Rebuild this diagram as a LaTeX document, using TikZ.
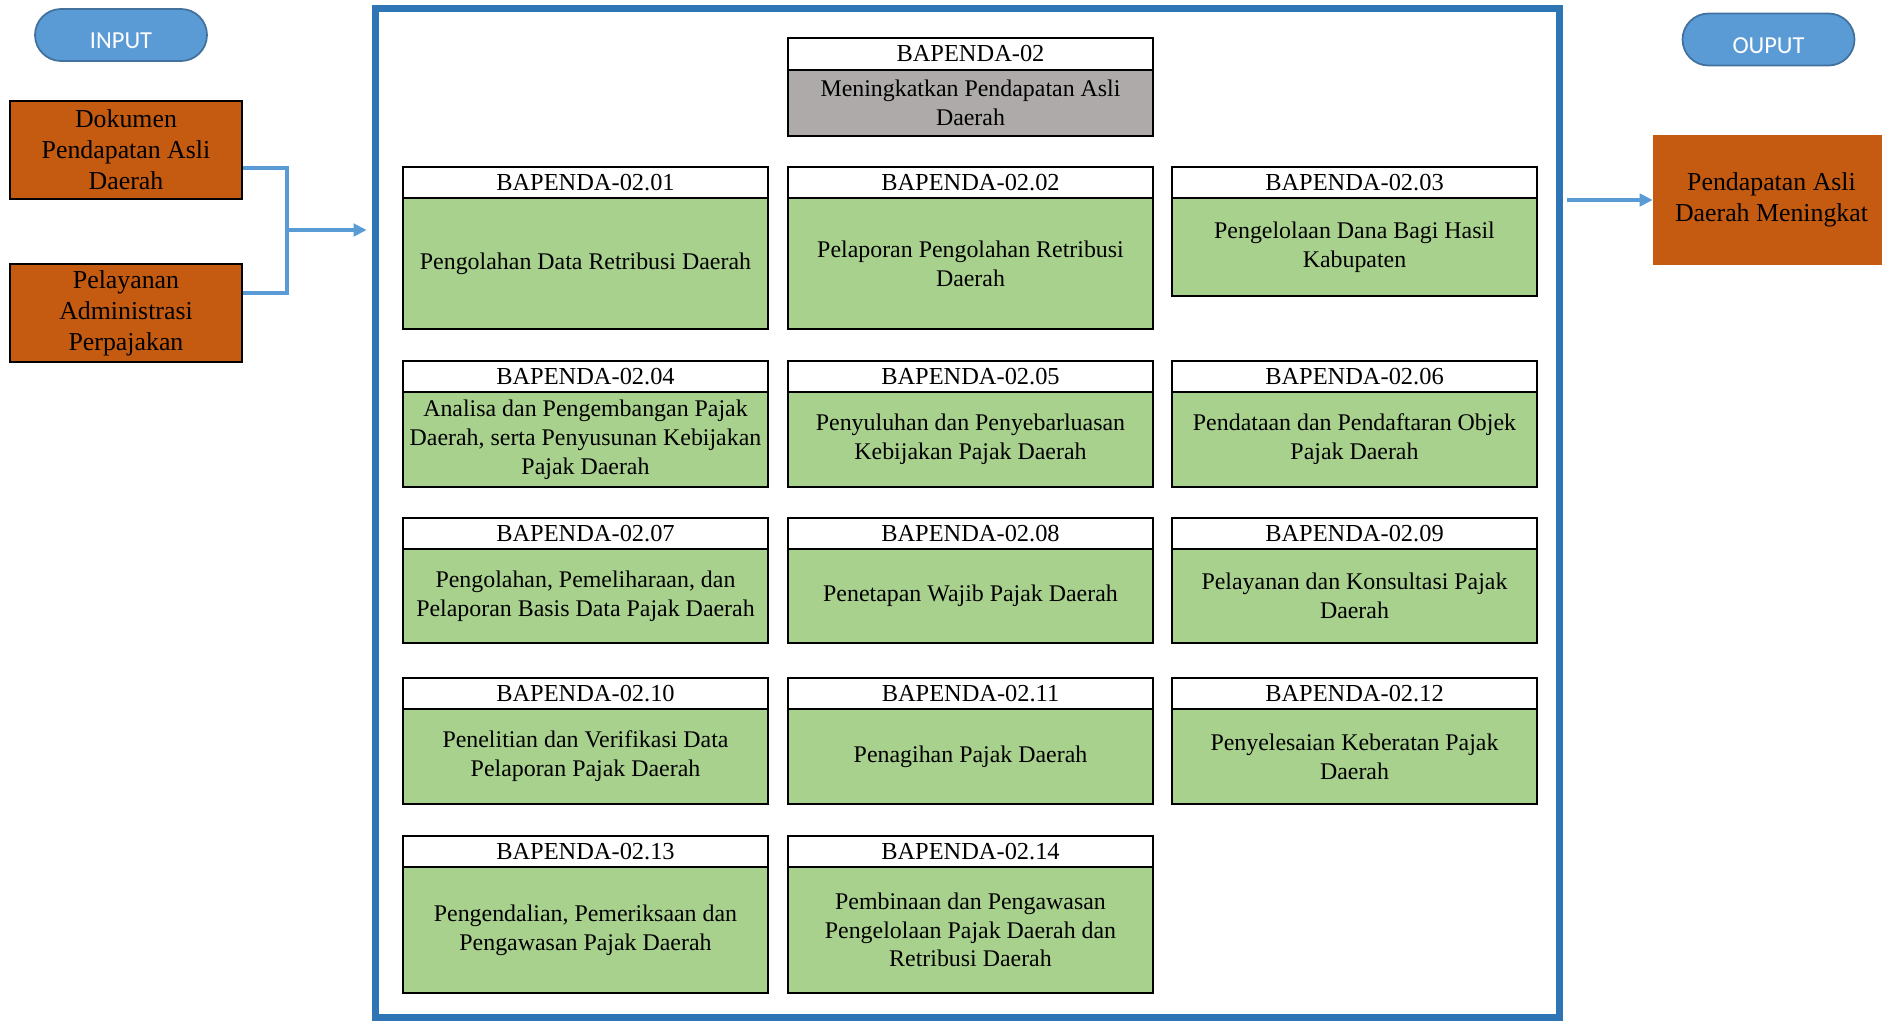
\documentclass[tikz,border=0pt]{standalone}
\usepackage{fontspec}
\setmainfont{Liberation Serif}
\newfontfamily\calibri{Carlito}
\usetikzlibrary{arrows.meta,positioning}

\definecolor{kegiatan}{HTML}{A9D18E}
\definecolor{program}{HTML}{AEAAAA}
\definecolor{oranye}{HTML}{C55A11}
\definecolor{bingkai}{HTML}{2E75B6}
\definecolor{pil}{HTML}{5B9BD5}
\definecolor{pilgaris}{HTML}{41719C}

\tikzset{
  hdr/.style={draw, line width=1.6pt, fill=white, minimum width=7.3cm, minimum height=0.62cm,
    inner sep=0pt, outer sep=0pt, anchor=north, font=\fontsize{13.9}{16}\selectfont},
  bdy/.style={draw, line width=1.6pt, fill=kegiatan, minimum width=7.3cm, inner sep=0pt,
    outer sep=0pt, anchor=north, align=center, font=\fontsize{13.6}{16.4}\selectfont},
  pill/.style={draw=pilgaris, fill=pil, line width=1pt, rounded corners=0.52cm,
    minimum width=3.44cm, minimum height=1.04cm, inner sep=0pt},
  pilltxt/.style={text=white, yshift=-0.12cm, font=\calibri\fontsize{13.9}{16}\selectfont},
  masukan/.style={draw, line width=1.6pt, fill=oranye, minimum width=4.64cm, minimum height=1.96cm,
    inner sep=0pt, align=center, font=\fontsize{14.7}{17.6}\selectfont},
  keluaran/.style={fill=oranye, minimum width=4.74cm, minimum height=2.6cm,
    inner sep=0pt, align=center, font=\fontsize{14.7}{17.6}\selectfont},
  conn/.style={draw=pil, line width=1.8pt},
  tip/.style={-{Triangle[length=0.26cm,width=0.25cm]}}
}

\begin{document}
\begin{tikzpicture}[x=0.02cm, y=-0.02cm]
    \useasboundingbox (0,0) rectangle (1882,1021);
    \node[draw=bingkai, line width=4pt, minimum width=23.7cm, minimum height=20.2cm] (frame) at (967.5,513) {};
    % input / output
    \node[pill, label={[pilltxt]center:INPUT}] (input) at (121,35) {};
    \node[pill, label={[pilltxt]center:OUPUT}] (output) at (1768.5,39.5) {};
    \node[masukan] (dok) at (126,150) {Dokumen\\Pendapatan Asli\\Daerah};
    \node[masukan] (pel) at (126,313) {Pelayanan\\Administrasi\\Perpajakan};
    \node[keluaran] (hasil) at (1771.5,200) {Pendapatan Asli\\Daerah Meningkat};
    % program
    \node[hdr, minimum height=0.64cm] (proh) at (970.5,38) {BAPENDA-02};
    \node[bdy, fill=program, minimum height=1.32cm] (pro) at (proh.south) {Meningkatkan Pendapatan Asli\\Daerah};
    % kegiatan
    \node[hdr] (k01h) at (585.5,167) {BAPENDA-02.01};
    \node[bdy, minimum height=2.62cm] (k01) at (k01h.south) {Pengolahan Data Retribusi Daerah};
    \node[hdr] (k02h) at (970.5,167) {BAPENDA-02.02};
    \node[bdy, minimum height=2.62cm] (k02) at (k02h.south) {Pelaporan Pengolahan Retribusi\\Daerah};
    \node[hdr] (k03h) at (1354.5,167) {BAPENDA-02.03};
    \node[bdy, minimum height=1.96cm] (k03) at (k03h.south) {Pengelolaan Dana Bagi Hasil\\Kabupaten};
    \node[hdr] (k04h) at (585.5,361) {BAPENDA-02.04};
    \node[bdy, minimum height=1.9cm] (k04) at (k04h.south) {Analisa dan Pengembangan Pajak\\Daerah, serta Penyusunan Kebijakan\\Pajak Daerah};
    \node[hdr] (k05h) at (970.5,361) {BAPENDA-02.05};
    \node[bdy, minimum height=1.9cm] (k05) at (k05h.south) {Penyuluhan dan Penyebarluasan\\Kebijakan Pajak Daerah};
    \node[hdr] (k06h) at (1354.5,361) {BAPENDA-02.06};
    \node[bdy, minimum height=1.9cm] (k06) at (k06h.south) {Pendataan dan Pendaftaran Objek\\Pajak Daerah};
    \node[hdr] (k07h) at (585.5,518) {BAPENDA-02.07};
    \node[bdy, minimum height=1.88cm] (k07) at (k07h.south) {Pengolahan, Pemeliharaan, dan\\Pelaporan Basis Data Pajak Daerah};
    \node[hdr] (k08h) at (970.5,518) {BAPENDA-02.08};
    \node[bdy, minimum height=1.88cm] (k08) at (k08h.south) {Penetapan Wajib Pajak Daerah};
    \node[hdr] (k09h) at (1354.5,518) {BAPENDA-02.09};
    \node[bdy, minimum height=1.88cm] (k09) at (k09h.south) {Pelayanan dan Konsultasi Pajak\\Daerah};
    \node[hdr] (k10h) at (585.5,678) {BAPENDA-02.10};
    \node[bdy, minimum height=1.9cm] (k10) at (k10h.south) {Penelitian dan Verifikasi Data\\Pelaporan Pajak Daerah};
    \node[hdr] (k11h) at (970.5,678) {BAPENDA-02.11};
    \node[bdy, minimum height=1.9cm] (k11) at (k11h.south) {Penagihan Pajak Daerah};
    \node[hdr] (k12h) at (1354.5,678) {BAPENDA-02.12};
    \node[bdy, minimum height=1.9cm] (k12) at (k12h.south) {Penyelesaian Keberatan Pajak\\Daerah};
    \node[hdr] (k13h) at (585.5,836) {BAPENDA-02.13};
    \node[bdy, minimum height=2.52cm] (k13) at (k13h.south) {Pengendalian, Pemeriksaan dan\\Pengawasan Pajak Daerah};
    \node[hdr] (k14h) at (970.5,836) {BAPENDA-02.14};
    \node[bdy, minimum height=2.52cm] (k14) at (k14h.south) {Pembinaan dan Pengawasan\\Pengelolaan Pajak Daerah dan\\Retribusi Daerah};
    % connectors
    \coordinate (j) at (287,230);
    \draw[conn] ([yshift=-0.36cm]dok.east) -| (j) |- ([yshift=0.4cm]pel.east);
    \draw[conn, tip, shorten >=0.1cm] (j) -- (j -| frame.west);
    \draw[conn, tip, shorten <=0.07cm] (frame.east |- hasil.west) -- (hasil.west);
\end{tikzpicture}
\end{document}
